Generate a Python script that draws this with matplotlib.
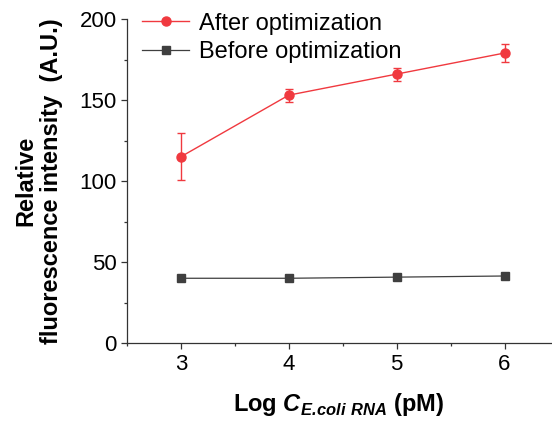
import matplotlib
matplotlib.use('Agg')
import matplotlib.pyplot as plt
from matplotlib.ticker import MultipleLocator

plt.rcParams['font.family'] = ['Liberation Sans', 'DejaVu Sans']
plt.rcParams['mathtext.fontset'] = 'custom'
plt.rcParams['mathtext.bfit'] = 'Liberation Sans:italic:bold'
plt.rcParams['mathtext.rm'] = 'Liberation Sans'

log_conc = [3, 4, 5, 6]
after_vals = [115, 153, 166, 179]
after_err = [14.5, 4, 4, 5.5]
before_vals = [40, 40, 40.7, 41.4]

red = '#F0393F'
grey = '#3F3F3F'

fig = plt.figure(figsize=(5.52, 4.22), dpi=100)
ax = fig.add_axes([0.230, 0.187, 0.768, 0.768])

ax.errorbar(log_conc, after_vals, yerr=after_err, fmt='none', ecolor=red,
            capsize=2.7, elinewidth=1.0, capthick=1.0)
ax.plot(log_conc, after_vals, color=red, marker='o', markersize=6.5, lw=1.0,
        label='After optimization')
ax.plot(log_conc, before_vals, color=grey, marker='s', markersize=5.6, lw=0.9,
        label='Before optimization')

ax.set_xlim(2.5, 6.43)
ax.set_ylim(0, 200)
ax.xaxis.set_major_locator(MultipleLocator(1))
ax.xaxis.set_minor_locator(MultipleLocator(0.5))
ax.yaxis.set_major_locator(MultipleLocator(50))
ax.yaxis.set_minor_locator(MultipleLocator(25))
ax.tick_params(which='both', direction='out', labelsize=16, width=0.9, color='#333333')
ax.tick_params(which='major', length=4)
ax.tick_params(which='minor', length=2.5)
for s in ['top', 'right']:
    ax.spines[s].set_visible(False)
for s in ['left', 'bottom']:
    ax.spines[s].set_linewidth(0.9)
    ax.spines[s].set_color('#333333')

ax.set_xlabel(r'Log $\mathbfit{C}_{\mathbfit{E.\!coli\ RNA}}$ (pM)', fontsize=17,
              fontweight='bold', labelpad=12)
ax.set_ylabel('Relative\nfluorescence intensity  (A.U.)', fontsize=17,
              fontweight='bold', labelpad=12, linespacing=1.15)

ax.legend(loc='upper left', bbox_to_anchor=(0.013, 1.049), borderaxespad=0,
          frameon=False, fontsize=17, handlelength=2.0, handletextpad=0.42,
          labelspacing=0.29)

fig.savefig('out.png', dpi=100)
